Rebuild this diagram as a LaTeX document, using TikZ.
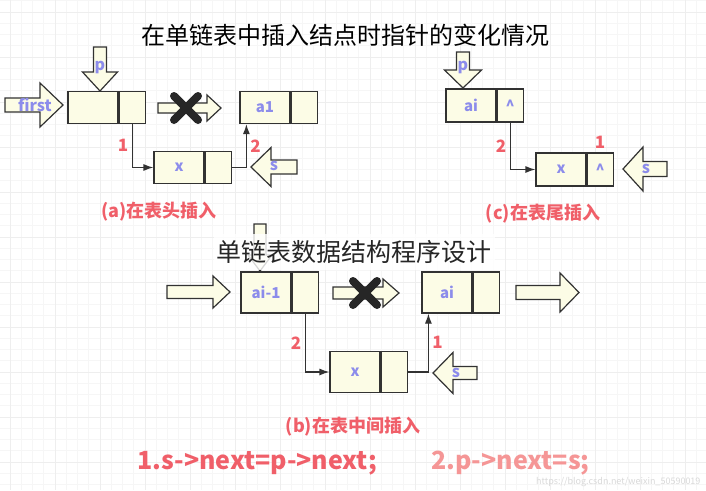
\documentclass[tikz,border=0pt]{standalone}
\usepackage{fontspec}
\setmainfont{Noto Sans CJK SC}
\usepackage{tikz}
\usetikzlibrary{arrows.meta,positioning}
\definecolor{cellfill}{RGB}{252,252,230}
\definecolor{cellline}{RGB}{50,50,50}
\definecolor{ptrtext}{RGB}{140,140,235}
\definecolor{stepred}{RGB}{240,95,105}
\definecolor{steppink}{RGB}{245,150,150}
\tikzstyle{datapart}=[rectangle, draw=cellline, fill=cellfill, line width=1.2pt, minimum width=50pt, minimum height=32pt, inner sep=0pt, text=ptrtext, font=\bfseries\fontsize{15}{15}\selectfont]
\tikzstyle{nextpart}=[datapart, minimum width=26pt]
\tikzstyle{link}=[draw=cellline, line width=1.2pt, -{Latex[length=10pt,width=7pt]}]
\tikzstyle{stepnum}=[text=stepred, font=\bfseries\fontsize{17}{17}\selectfont]
\tikzstyle{ptrname}=[text=ptrtext, font=\bfseries\fontsize{16}{16}\selectfont]
\tikzstyle{caption}=[text=stepred, font=\bfseries\fontsize{18}{18}\selectfont]
\tikzstyle{cutmark}=[draw=black!85, line width=8pt, line cap=round]
\newcommand{\datanode}{\node[datapart]}
\newcommand{\nextnode}{\node[nextpart]}
\newcommand{\blockarrow}[6]{%
  \draw[draw=cellline, fill=cellfill, line width=1.2pt, shift={#1}, rotate=#2]
    (0,0) -- (-#4,#6) -- (-#4,#5) -- (-#3,#5) -- (-#3,-#5) -- (-#4,-#5) -- (-#4,-#6) -- cycle;}

\begin{document}
\begin{tikzpicture}[x=1pt,y=-1pt]
  \useasboundingbox (0,0) rectangle (706,490);
  \fill[white] (0,0) rectangle (706,490);
  \foreach \k in {0,...,62} \draw[gray!7, line width=0.7pt] ({10+11.25*\k},0) -- ({10+11.25*\k},490);
  \foreach \k in {-1,...,43} \draw[gray!7, line width=0.7pt] (0,{12+11.25*\k}) -- (706,{12+11.25*\k});
  \foreach \k in {0,...,15} \draw[gray!13, line width=0.8pt] ({10+45*\k},0) -- ({10+45*\k},490);
  \foreach \k in {0,...,10} \draw[gray!13, line width=0.8pt] (0,{12+45*\k}) -- (706,{12+45*\k});

  \node[font=\fontsize{24}{24}\selectfont] (title) at (345,35) {在单链表中插入结点时指针的变化情况};

  \blockarrow{(63,105)}{0}{58}{23}{7}{22}
  \node[ptrname] (first) at (35,105) {first};
  \blockarrow{(100,91)}{-90}{44}{19}{6.5}{17.5}
  \node[ptrname] (pa) at (100,67) {p};
  \datanode (hd) at (93,107.5) {};
  \nextnode[right=0pt of hd] (hdnext) {};
  \blockarrow{(221,108)}{0}{63}{14}{5}{13}
  \draw[cutmark, shift={(186,108)}] (-12,-12) -- (12,12) (-12,12) -- (12,-12);
  \datanode (aone) at (265,107.5) {a1};
  \nextnode[right=0pt of aone] (aonenext) {};
  \datanode (xa) at (179,167.5) {x};
  \nextnode[right=0pt of xa] (xanext) {};
  \draw[link] (hdnext.south) |- (xa.west) node[stepnum, pos=0.25, left=0pt] {1};
  \draw[link] (xanext.east) -| ([xshift=7pt]aone.south west) node[stepnum, pos=0.75, right=0pt] {2};
  \blockarrow{(251,167)}{180}{46}{20}{7}{19.5}
  \node[ptrname] (sa) at (274,166) {s};
  \node[caption] (capa) at (159,212) {(a)在表头插入};

  \blockarrow{(463,88)}{-90}{36}{18}{6.5}{18.5}
  \node[ptrname] (pc) at (463,67) {p};
  \datanode[minimum height=33pt] (aic) at (471,105.5) {ai};
  \nextnode[minimum height=33pt, right=0pt of aic] (aicnext) {\textasciicircum};
  \datanode[minimum height=33pt] (xc) at (561,169.5) {x};
  \nextnode[minimum height=33pt, right=0pt of xc] (xcnext) {\textasciicircum};
  \draw[link] (aicnext.south) |- (xc.west) node[stepnum, pos=0.25, left=0pt] {2};
  \node[stepnum] (onec) at (600,142) {1};
  \blockarrow{(623,169)}{180}{44}{20}{7.5}{22}
  \node[ptrname] (sc) at (646,169) {s};
  \node[caption] (capc) at (543,214) {(c)在表尾插入};

  \blockarrow{(260,271)}{-90}{47}{16}{6}{12}
  \node[fill=white, fill opacity=0.8, text opacity=1, text=black!85, minimum height=36pt, inner xsep=3pt, font=\fontsize{25}{25}\selectfont] (subtitle) at (354,252) {单链表数据结构程序设计};
  \blockarrow{(230,292)}{0}{63}{17}{6.5}{16}
  \datanode[minimum height=41pt] (prev) at (266,292.5) {ai-1};
  \nextnode[minimum height=41pt, right=0pt of prev] (prevnext) {};
  \blockarrow{(399,293)}{0}{66}{16}{6}{14}
  \draw[cutmark, shift={(365,293)}] (-12,-12) -- (12,12) (-12,12) -- (12,-12);
  \datanode[minimum height=41pt] (aib) at (447,292.5) {ai};
  \nextnode[minimum height=41pt, right=0pt of aib] (aibnext) {};
  \blockarrow{(579,292.5)}{0}{63}{19}{7}{19.5}
  \datanode[minimum height=41pt] (xb) at (355,372) {x};
  \nextnode[minimum height=41pt, right=0pt of xb] (xbnext) {};
  \draw[link] (prevnext.south) |- (xb.west) node[stepnum, pos=0.25, left=0pt] {2};
  \draw[link] (xbnext.east) -| ([xshift=7pt]aib.south west) node[stepnum, pos=0.75, right=0pt] {1};
  \blockarrow{(433,373)}{180}{44}{20}{6.5}{20.5}
  \node[ptrname] (sb) at (456,373) {s};
  \node[caption] (capb) at (353,427) {(b)在表中间插入};

  \node[text=stepred, font=\bfseries\fontsize{25}{25}\selectfont, anchor=west] (stepone) at (134,463) {1.s->next=p->next;};
  \node[text=steppink, font=\bfseries\fontsize{25}{25}\selectfont, anchor=west] (steptwo) at (428,463) {2.p->next=s;};
  \node[text=black!15, font=\fontsize{9}{9}\selectfont, anchor=east] (mark) at (704,482) {https://blog.csdn.net/weixin\_50590019};
\end{tikzpicture}
\end{document}
